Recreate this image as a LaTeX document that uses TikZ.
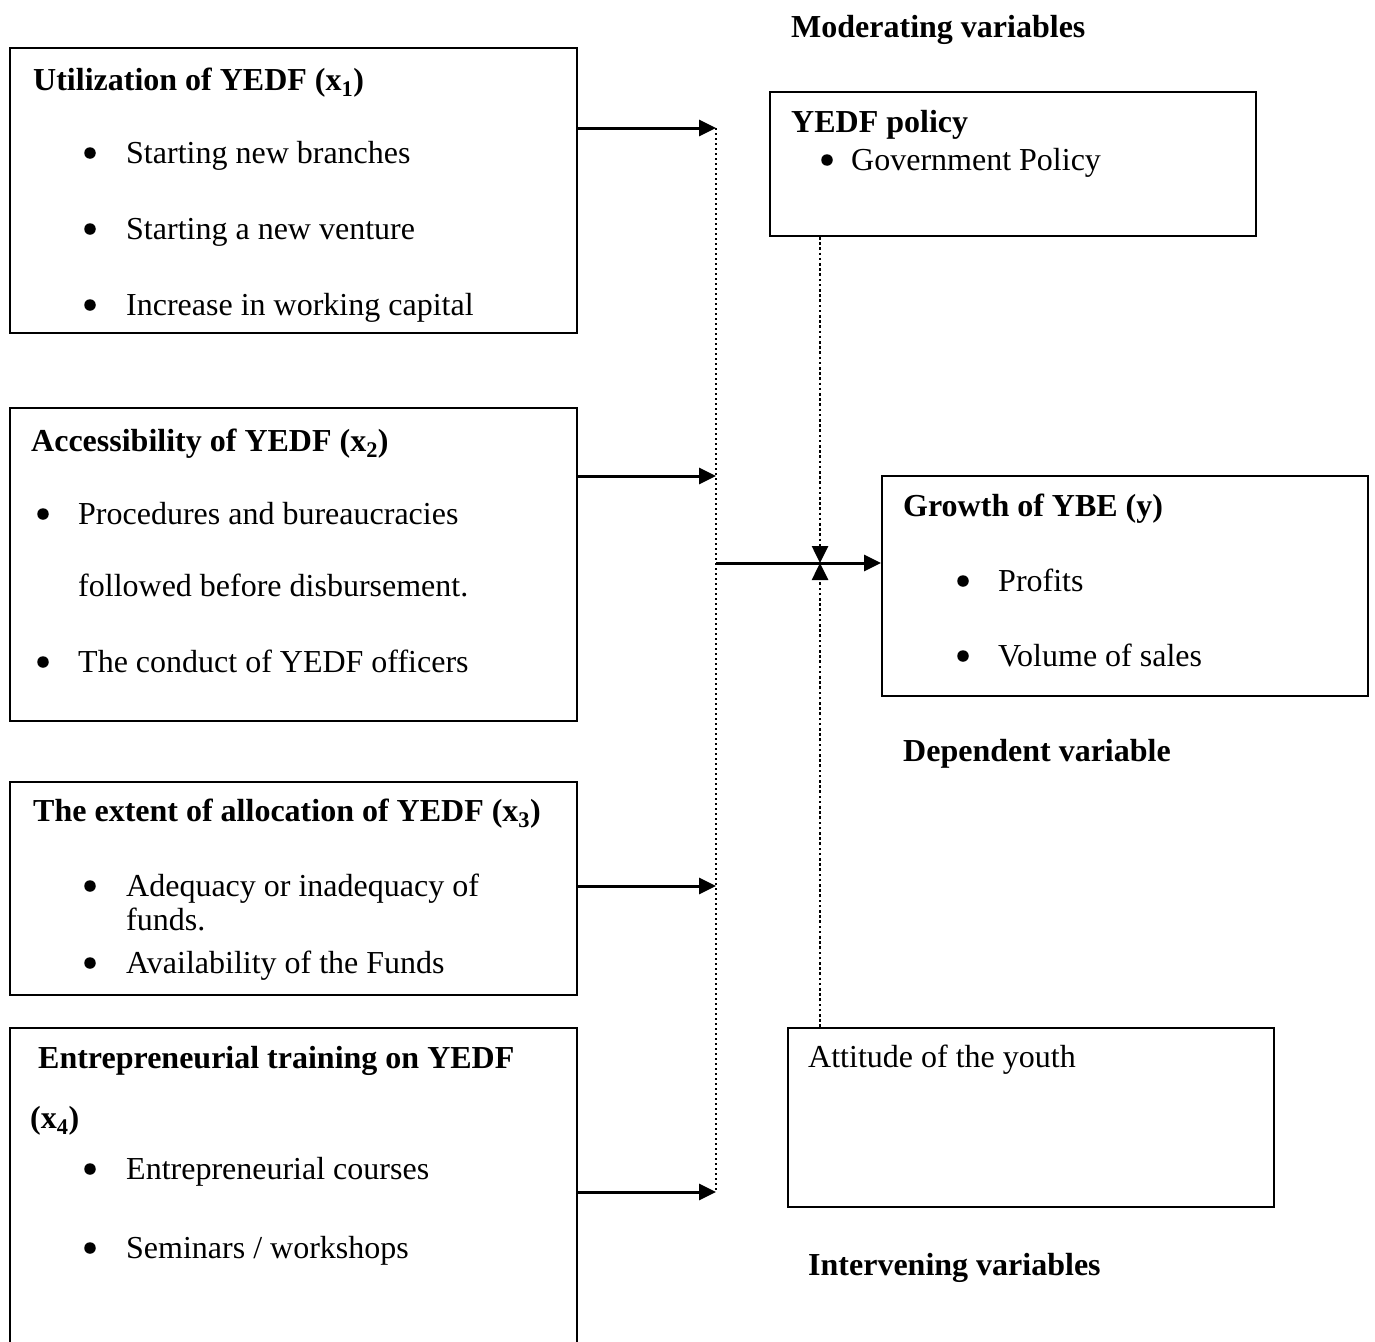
\documentclass[tikz,border=0pt]{standalone}
\usepackage{fontspec}
\setmainfont{Liberation Serif}
\usetikzlibrary{arrows.meta}
\tikzset{
  box/.style={draw, line width=2pt, rectangle, inner sep=0pt},
  txt/.style={anchor=base west, inner sep=0pt, font=\fontsize{32}{38}\selectfont},
  btxt/.style={anchor=base west, inner sep=0pt, font=\fontsize{32}{38}\selectfont\bfseries},
  blt/.style={circle, fill, inner sep=0pt, minimum size=11.5pt},
  arr/.style={line width=3pt, -{Triangle[length=17pt,width=16pt]}},
  dotline/.style={line width=2.6pt, dash pattern=on 2.6pt off 2.6pt, -{Triangle[length=17pt,width=16pt]}},
  vdot/.style={line width=2.4pt, dash pattern=on 2.4pt off 2.6pt}
}
\begin{document}
\begin{tikzpicture}[x=1pt,y=-1pt]
\useasboundingbox (0,0) rectangle (1375,1341);
% boxes
\node[box, minimum width=567pt, minimum height=285pt] (b1) at (293.5,190.5) {};
\node[box, minimum width=567pt, minimum height=313pt] (b2) at (293.5,564.5) {};
\node[box, minimum width=567pt, minimum height=213pt] (b3) at (293.5,888.5) {};
\node[box, minimum width=567pt, minimum height=352pt] (b4) at (293.5,1204) {};
\node[box, minimum width=486pt, minimum height=144pt] (p) at (1013,164) {};
\node[box, minimum width=486pt, minimum height=220pt] (g) at (1125,586) {};
\node[box, minimum width=486pt, minimum height=179pt] (a) at (1031,1117.5) {};
% box 1
\node[btxt] (t1) at (33,90.5) {Utilization of YEDF (x\textsubscript{1})};
\node[blt] (k11) at (90,153) {};
\node[txt] (l11) at (126,163.5) {Starting new branches};
\node[blt] (k12) at (90,229) {};
\node[txt] (l12) at (126,239.5) {Starting a new venture};
\node[blt] (k13) at (90,305) {};
\node[txt] (l13) at (126,315.5) {Increase in working capital};
% box 2
\node[btxt] (t2) at (31,451.5) {Accessibility of YEDF (x\textsubscript{2})};
\node[blt] (k21) at (43,514) {};
\node[txt] (l21) at (78,524.5) {Procedures and bureaucracies};
\node[txt] (l22) at (78,596.5) {followed before disbursement.};
\node[blt] (k23) at (43,662) {};
\node[txt] (l23) at (78,672.5) {The conduct of YEDF officers};
% box 3
\node[btxt] (t3) at (33,821.5) {The extent of allocation of YEDF (x\textsubscript{3})};
\node[blt] (k31) at (90,886) {};
\node[txt] (l31) at (126,896.5) {Adequacy or inadequacy of};
\node[txt] (l32) at (126,930.5) {funds.};
\node[blt] (k33) at (90,963) {};
\node[txt] (l33) at (126,973.5) {Availability of the Funds};
% box 4
\node[btxt] (t4) at (38,1068.5) {Entrepreneurial training on YEDF};
\node[btxt] (t4b) at (30,1128.5) {(x\textsubscript{4})};
\node[blt] (k41) at (90,1169) {};
\node[txt] (l41) at (126,1179.5) {Entrepreneurial courses};
\node[blt] (k42) at (90,1248) {};
\node[txt] (l42) at (126,1258.5) {Seminars / workshops};
% policy box
\node[btxt] (pt) at (791,132.5) {YEDF policy};
\node[blt] (pk) at (827,160) {};
\node[txt] (pl) at (851,170.5) {Government Policy};
% growth box
\node[btxt] (gt) at (903,516.5) {Growth of YBE (y)};
\node[blt] (gk1) at (963,581) {};
\node[txt] (gl1) at (998,591.5) {Profits};
\node[blt] (gk2) at (963,656) {};
\node[txt] (gl2) at (998,666.5) {Volume of sales};
% attitude box
\node[txt] (at) at (808,1067.5) {Attitude of the youth};
% labels
\node[btxt] (lm) at (791,37.5) {Moderating variables};
\node[btxt] (ld) at (903,761.5) {Dependent variable};
\node[btxt] (li) at (808,1275.5) {Intervening variables};
% connectors
\coordinate (v1) at (716,128);
\coordinate (v2) at (716,476);
\coordinate (vm) at (716,563);
\coordinate (v3) at (716,886);
\coordinate (v4) at (716,1192);
\coordinate (jm) at (820,563);
\draw[vdot] (v1) -- (v4);
\draw[arr] (b1.east |- v1) -- (v1);
\draw[arr] (b2.east |- v2) -- (v2);
\draw[arr] (b3.east |- v3) -- (v3);
\draw[arr] (b4.east |- v4) -- (v4);
\draw[arr] (vm) -- (g.west |- vm);
\draw[dotline] (p.south -| jm) -- (jm);
\draw[dotline] (a.north -| jm) -- (jm);
\end{tikzpicture}
\end{document}
